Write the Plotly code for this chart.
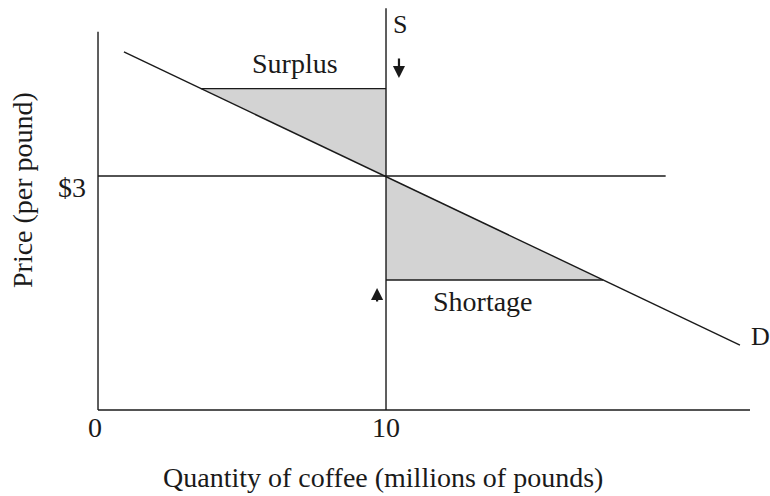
import plotly.graph_objects as go

# ---- data ----
demand_q = [0.9, 22.29]
demand_p = [4.59, 0.833]
supply_q = [10, 10]
supply_p = [0, 5.15]
equilibrium_price = 3
price_line_q = [0, 19.71]
surplus_price = 4.12
surplus_q = [3.57, 10]
shortage_price = 1.667
shortage_q = [10, 17.54]
x_axis_q = [0, 22.64]
y_axis_p = [0, 4.85]
x_tick_vals = [0, 10]
x_tick_text = ["0", "10"]
y_tick_vals = [3]
y_tick_text = ["$3"]

LINE = "#1a1a1a"
FILL = "#d3d3d3"
FONT = "Liberation Serif"

fig = go.Figure()

# shaded triangles
fig.add_trace(go.Scatter(
    x=[surplus_q[0], surplus_q[1], supply_q[0], surplus_q[0]],
    y=[surplus_price, surplus_price, equilibrium_price, surplus_price],
    fill="toself", fillcolor=FILL, line=dict(width=0), mode="lines",
    hoverinfo="skip", showlegend=False))
fig.add_trace(go.Scatter(
    x=[shortage_q[0], shortage_q[0], shortage_q[1], shortage_q[0]],
    y=[equilibrium_price, shortage_price, shortage_price, equilibrium_price],
    fill="toself", fillcolor=FILL, line=dict(width=0), mode="lines",
    hoverinfo="skip", showlegend=False))

def seg(xs, ys):
    fig.add_trace(go.Scatter(x=xs, y=ys, mode="lines",
                             line=dict(color=LINE, width=1.4),
                             hoverinfo="skip", showlegend=False))

seg(x_axis_q, [0, 0])
seg([0, 0], y_axis_p)
seg(demand_q, demand_p)
seg(supply_q, supply_p)
seg(price_line_q, [equilibrium_price, equilibrium_price])
seg(surplus_q, [surplus_price, surplus_price])
seg(shortage_q, [shortage_price, shortage_price])

ann = []
def label(text, x, y, size=28, **kw):
    d = dict(text=text, x=x, y=y, xref="x", yref="y", showarrow=False,
             font=dict(family=FONT, size=size, color="#1a1a1a"),
             xanchor="center", yanchor="middle")
    d.update(kw)
    ann.append(d)

label("S", 10.49, 4.94, size=26)
label("D", 22.99, 0.94, size=26)
label("Surplus", 6.84, 4.44)
label("Shortage", 13.37, 1.385)
for v, t in zip(x_tick_vals, x_tick_text):
    label(t, v - (0.1 if v == 0 else 0), -0.225)
for v, t in zip(y_tick_vals, y_tick_text):
    label(t, -0.9, v - 0.15)
label("Quantity of coffee (millions of pounds)", 9.9, -0.86)
label("Price (per pound)", -2.64, 2.82, textangle=-90)

# arrows
ann.append(dict(x=10.45, y=4.256, ax=10.45, ay=4.526, xref="x", yref="y",
                axref="x", ayref="y", showarrow=True, arrowhead=2,
                arrowsize=1.1, arrowwidth=2.2, arrowcolor=LINE, text=""))
ann.append(dict(x=9.69, y=1.564, ax=9.69, ay=1.372, xref="x", yref="y",
                axref="x", ayref="y", showarrow=True, arrowhead=2,
                arrowsize=1.1, arrowwidth=2.2, arrowcolor=LINE, text=""))

fig.update_layout(
    width=770, height=496,
    margin=dict(l=0, r=0, t=0, b=0),
    paper_bgcolor="white", plot_bgcolor="white",
    xaxis=dict(range=[-3.403, 23.333], visible=False, fixedrange=True),
    yaxis=dict(range=[-1.1026, 5.2564], visible=False, fixedrange=True),
    annotations=ann,
    showlegend=False,
)

fig.write_html("out.html", config={"displayModeBar": False},
               post_script="document.body.style.margin='0';")
